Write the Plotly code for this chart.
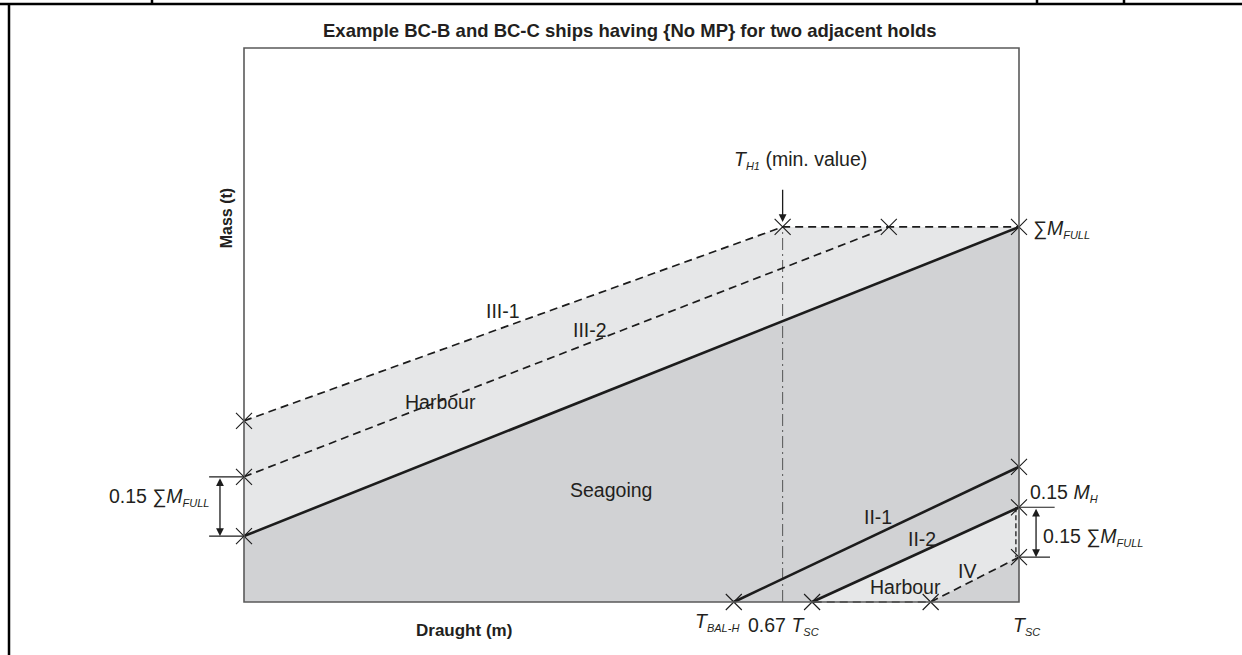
import plotly.graph_objects as go

# ---- draught / mass schematic values (box spans 0..100 on both axes) ----
T_SC = 100.0            # scantling draught at right edge
T_067 = 69.5            # 0.67 T_SC
T_BAL_H = 63.2          # ballast draught in harbour
M_FULL = 67.7           # sum of M_FULL (top of envelope)

# seagoing limit line (solid)
sea_x = [0.0, T_SC]
sea_y = [11.9, M_FULL]
# harbour limits III-1 / III-2 (dashed)
iii1_x = [0.0, T_067, T_SC]
iii1_y = [32.7, M_FULL, M_FULL]
iii2_x = [0.0, 83.2]
iii2_y = [22.6, M_FULL]
# lower-bound lines II-1 / II-2 (solid) and IV (dashed)
ii1_x = [T_BAL_H, T_SC]
ii1_y = [0.0, 24.4]
ii2_x = [73.3, T_SC]
ii2_y = [0.0, 17.1]
iv_x = [T_SC, 88.6, 73.3]
iv_y = [8.1, 0.0, 0.0]

DARK = "#1c1c1c"
FONT = "Liberation Sans"
LBL = 19.5

fig = go.Figure()

# seagoing region (darker grey) below the solid line
fig.add_trace(go.Scatter(
    x=[0.0, T_SC, T_SC, 0.0], y=[sea_y[0], sea_y[1], 0.0, 0.0],
    fill="toself", fillcolor="#d1d2d4", line=dict(width=0),
    mode="lines", hoverinfo="skip"))
# harbour band (light grey) between seagoing line and III-1
fig.add_trace(go.Scatter(
    x=[iii1_x[0], iii1_x[1], iii1_x[2], sea_x[0]],
    y=[iii1_y[0], iii1_y[1], iii1_y[2], sea_y[0]],
    fill="toself", fillcolor="#e6e7e8", line=dict(width=0),
    mode="lines", hoverinfo="skip"))
# harbour patch under II-2 bounded by IV
fig.add_trace(go.Scatter(
    x=[ii2_x[0], ii2_x[1], iv_x[0], iv_x[1]],
    y=[ii2_y[0], ii2_y[1], iv_y[0], iv_y[1]],
    fill="toself", fillcolor="#e6e7e8", line=dict(width=0),
    mode="lines", hoverinfo="skip"))

# dash-dot guide at 0.67 T_SC
fig.add_trace(go.Scatter(
    x=[T_067, T_067], y=[0.0, M_FULL], mode="lines",
    line=dict(color="#555555", width=1, dash="12px,4px,2px,4px"),
    hoverinfo="skip"))

dash = "8px,5px"
for xs, ys in [(iii1_x, iii1_y), (iii2_x, iii2_y), (iv_x, iv_y)]:
    fig.add_trace(go.Scatter(x=xs, y=ys, mode="lines",
                             line=dict(color=DARK, width=1.7, dash=dash),
                             hoverinfo="skip"))
# short dashed riser on the right edge
fig.add_trace(go.Scatter(x=[99.6, 99.6], y=[ii2_y[1], iv_y[0]], mode="lines",
                         line=dict(color=DARK, width=1.3, dash="5px,3px"),
                         hoverinfo="skip"))
for xs, ys in [(sea_x, sea_y), (ii1_x, ii1_y), (ii2_x, ii2_y)]:
    fig.add_trace(go.Scatter(x=xs, y=ys, mode="lines",
                             line=dict(color=DARK, width=2.6),
                             hoverinfo="skip"))

# cross markers at the defining points
mk_x = [0.0, 0.0, 0.0, T_067, 83.2, T_SC, T_SC, T_SC, T_SC, T_BAL_H, 73.3, 88.6]
mk_y = [iii1_y[0], iii2_y[0], sea_y[0], M_FULL, M_FULL, M_FULL,
        ii1_y[1], ii2_y[1], iv_y[0], 0.0, 0.0, 0.0]
fig.add_trace(go.Scatter(x=mk_x, y=mk_y, mode="markers",
                         marker=dict(symbol="x-thin", size=16,
                                     line=dict(color=DARK, width=1.1)),
                         hoverinfo="skip"))

# plot frame
fig.add_shape(type="rect", x0=0, y0=0, x1=T_SC, y1=100,
              line=dict(color="#5a5a5a", width=1.6), layer="above")

# table frame around the figure
for sh in [dict(x0=0, x1=1, y0=1 - 4 / 655, y1=1 - 4 / 655),
           dict(x0=9 / 1242, x1=9 / 1242, y0=0, y1=1 - 4 / 655),
           dict(x0=152 / 1242, x1=152 / 1242, y0=1, y1=1 - 4 / 655),
           dict(x0=1037 / 1242, x1=1037 / 1242, y0=1, y1=1 - 4 / 655),
           dict(x0=1124 / 1242, x1=1124 / 1242, y0=1, y1=1 - 4 / 655)]:
    fig.add_shape(type="line", xref="paper", yref="paper",
                  line=dict(color="black", width=2.5), **sh)

# dimension extension lines
for x0, x1, y in [(-4.5, 0.0, iii2_y[0]), (-4.5, 0.0, sea_y[0]),
                  (T_SC, 104.6, ii2_y[1]), (T_SC, 104.0, iv_y[0])]:
    fig.add_shape(type="line", x0=x0, x1=x1, y0=y, y1=y,
                  line=dict(color=DARK, width=1.2))

ann = []
# double-headed dimension arrows
for xa, ya0, ya1 in [(-3.1, iii2_y[0], sea_y[0]), (102.2, ii2_y[1], iv_y[0])]:
    ann.append(dict(x=xa, y=ya1, ax=xa, ay=ya0, axref="x", ayref="y",
                    text="", showarrow=True, arrowside="end+start",
                    arrowhead=2, arrowsize=1.2, arrowwidth=1.3,
                    arrowcolor=DARK, font=dict(size=10)))
# T_H1 pointer
ann.append(dict(x=T_067, y=68.6, ax=T_067, ay=74.7, axref="x", ayref="y",
                text="", showarrow=True, arrowhead=2, arrowsize=1.2,
                arrowwidth=1.3, arrowcolor=DARK, font=dict(size=10)))


def label(x, y, text, size=LBL, xanchor="center", bold=False, angle=0):
    ann.append(dict(x=x, y=y, text=f"<b>{text}</b>" if bold else text,
                    showarrow=False, xanchor=xanchor, yanchor="middle",
                    textangle=angle,
                    font=dict(family=FONT, size=size, color="#231f20")))


def sub(s):
    return f'<sub><span style="font-size:11px"><i>{s}</i></span></sub>'


SUM = "\u2211"
label(49.8, 103.1, "Example BC-B and BC-C ships having {No MP} for two adjacent holds",
      size=18.5, bold=True)
label(-2.3, 69.3, "Mass (t)", size=16, bold=True, angle=-90)
label(28.4, -5.1, "Draught (m)", size=17, bold=True)
label(61.0, -3.6, "<i>T</i>" + sub("BAL-H"))
label(69.6, -4.4, "0.67 <i>T</i>" + sub("SC"))
label(101.0, -4.4, "<i>T</i>" + sub("SC"))
label(71.8, 79.8, "<i>T</i>" + sub("H1") + " (min. value)")
label(101.6, 67.3, f"{SUM}<i>M</i>" + sub("FULL"), xanchor="left")
label(33.4, 52.5, "III-1")
label(44.6, 49.1, "III-2")
label(25.3, 36.1, "Harbour")
label(47.4, 20.2, "Seagoing")
label(81.8, 15.3, "II-1")
label(87.5, 11.4, "II-2")
label(93.3, 5.6, "IV")
label(85.4, 2.7, "Harbour")
label(101.2, 19.6, "0.15 <i>M</i>" + sub("H"), xanchor="left")
label(102.9, 11.8, f"0.15 {SUM}<i>M</i>" + sub("FULL"), xanchor="left")
label(-4.3, 19.0, f"0.15 {SUM}<i>M</i>" + sub("FULL"), xanchor="right")

fig.update_layout(
    width=1242, height=655,
    margin=dict(l=0, r=0, t=0, b=0),
    paper_bgcolor="white", plot_bgcolor="white",
    showlegend=False,
    annotations=ann,
    xaxis=dict(range=[-244 / 7.75, (1242 - 244) / 7.75], visible=False,
               domain=[0, 1], fixedrange=True),
    yaxis=dict(range=[(602 - 655) / 5.54, 602 / 5.54], visible=False,
               domain=[0, 1], fixedrange=True),
)

fig.write_html("out.html")
